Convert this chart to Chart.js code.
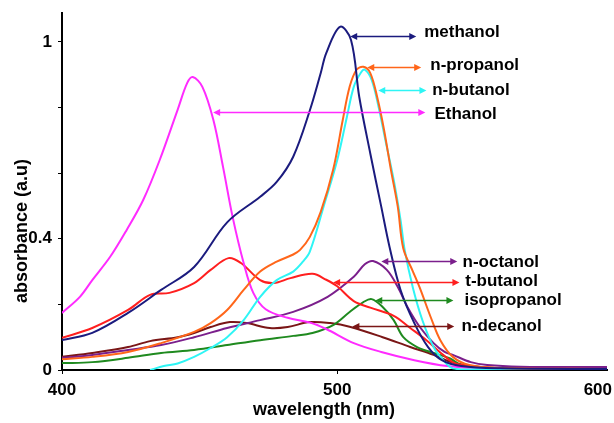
<!DOCTYPE html>
<html>
<head>
<meta charset="utf-8">
<script src="https://cdn.jsdelivr.net/npm/chart.js@4"></script>
<style>
  html, body { margin: 0; padding: 0; background: #ffffff; }
</style>
</head>
<body>
<canvas id="chart" width="614" height="423"></canvas>
<script>
// ---- data (wavelength in nm, absorbance in a.u.) ----
const methanolNm  = [400, 411, 424, 436, 448, 460, 472, 478, 484, 490, 494, 496, 501, 505, 508, 512, 516, 519, 523, 528, 533, 538, 545, 559, 598];
const methanolAbs = [0.091, 0.113, 0.174, 0.244, 0.314, 0.45, 0.528, 0.573, 0.65, 0.79, 0.905, 0.966, 1.046, 1.006, 0.832, 0.66, 0.497, 0.375, 0.244, 0.143, 0.07, 0.03, 0.012, 0.005, 0.003];

const ethanolNm  = [400, 406.5, 411, 417.5, 423.5, 429.5, 435.5, 442, 445.5, 447.5, 451, 455, 458.5, 462, 466, 469.5, 474, 482, 490, 496, 506, 516, 528, 540, 552, 598];
const ethanolAbs = [0.174, 0.223, 0.274, 0.345, 0.427, 0.518, 0.64, 0.793, 0.875, 0.893, 0.863, 0.762, 0.619, 0.466, 0.326, 0.235, 0.185, 0.159, 0.145, 0.125, 0.082, 0.055, 0.03, 0.012, 0.005, 0.003];

const propanolNm  = [400, 411, 424, 436, 448, 454, 460, 466, 472, 478, 484, 486.5, 490, 494, 498.5, 502, 504.5, 507, 509.5, 512, 514.5, 517, 519.5, 522, 524, 527.5, 530, 534, 537.5, 542, 548, 559, 598];
const propanolAbs = [0.033, 0.04, 0.055, 0.082, 0.116, 0.143, 0.183, 0.244, 0.3, 0.33, 0.352, 0.366, 0.405, 0.482, 0.61, 0.762, 0.863, 0.915, 0.924, 0.905, 0.832, 0.732, 0.61, 0.497, 0.37, 0.3, 0.25, 0.16, 0.09, 0.04, 0.015, 0.006, 0.003];

const butanolNm  = [432, 437, 442, 448, 454, 460, 466, 472, 478, 484, 487.5, 490, 495, 500, 503.5, 506, 508.5, 510, 512.5, 515, 517.5, 520.5, 523, 524.5, 527.5, 531, 535, 538.5, 542, 550, 598];
const butanolAbs = [0.0, 0.012, 0.02, 0.04, 0.067, 0.1, 0.152, 0.223, 0.274, 0.3, 0.33, 0.36, 0.497, 0.64, 0.771, 0.863, 0.905, 0.915, 0.884, 0.802, 0.7, 0.58, 0.457, 0.366, 0.25, 0.15, 0.07, 0.03, 0.005, 0.002, 0.002];

const tButanolNm  = [400, 411, 424, 432, 439, 448, 454, 460.5, 465, 472, 477, 483, 491, 496, 500, 506, 512, 520.5, 526.5, 532.5, 538.5, 543.5, 559, 598];
const tButanolAbs = [0.098, 0.128, 0.183, 0.229, 0.235, 0.265, 0.305, 0.341, 0.326, 0.274, 0.265, 0.28, 0.293, 0.275, 0.255, 0.21, 0.19, 0.165, 0.128, 0.09, 0.046, 0.018, 0.005, 0.003];

const isopropanolNm  = [400, 411, 424, 436, 448, 460, 472, 484, 491, 498.5, 504.5, 509.5, 512.5, 516.5, 520.5, 524, 529, 535, 541, 545, 552, 598];
const isopropanolAbs = [0.021, 0.024, 0.037, 0.052, 0.061, 0.076, 0.091, 0.104, 0.113, 0.137, 0.177, 0.207, 0.216, 0.192, 0.152, 0.1, 0.07, 0.052, 0.035, 0.015, 0.006, 0.003];

const octanolNm  = [400, 411, 424, 436, 448, 460, 472, 484, 496.5, 506, 510, 513, 518, 522, 525.5, 530, 535, 539, 542, 548.5, 554.5, 566.5, 598];
const octanolAbs = [0.037, 0.046, 0.061, 0.076, 0.1, 0.128, 0.152, 0.177, 0.223, 0.284, 0.322, 0.332, 0.305, 0.253, 0.192, 0.131, 0.082, 0.055, 0.046, 0.024, 0.015, 0.01, 0.009];

const decanolNm  = [400, 411, 424, 432, 442, 448, 454, 461, 467, 475.5, 482, 490, 497.5, 504.5, 516.5, 526.5, 535, 541, 548.5, 559, 598];
const decanolAbs = [0.04, 0.052, 0.07, 0.088, 0.1, 0.113, 0.131, 0.146, 0.143, 0.128, 0.131, 0.146, 0.143, 0.132, 0.1, 0.07, 0.046, 0.025, 0.012, 0.005, 0.003];

const xTickValues = [400, 500];
const xTickLabels = ["400", "500", "600"];
const yTickValues = [0, 0.2, 0.4, 0.6, 0.8, 1];
const yTickShown  = [0, 0.4, 1];

// arrow annotations: [label, arrow from nm, arrow to nm, arrow abs, text nm, text baseline abs]
const notes = [
    ["methanol",    504.7, 528.7, 1.017, 531.6, 1.015],
    ["n-propanol",  510.9, 530.5, 0.924, 533.8, 0.915],
    ["n-butanol",   514.9, 532.4, 0.854, 534.5, 0.838],
    ["Ethanol",     454.9, 532.0, 0.787, 535.3, 0.765],
    ["n-octanol",   516.0, 543.6, 0.332, 545.5, 0.315],
    ["t-butanol",   498.5, 544.4, 0.269, 546.5, 0.257],
    ["isopropanol", 513.8, 542.2, 0.213, 546.2, 0.198],
    ["n-decanol",   505.5, 542.5, 0.134, 545.1, 0.120],
];

const COLORS = {
    "methanol":    "#1b1b7e",
    "Ethanol":     "#ff2bff",
    "n-propanol":  "#ff661a",
    "n-butanol":   "#2ef5f5",
    "t-butanol":   "#ff1f1f",
    "isopropanol": "#1f8a1f",
    "n-octanol":   "#7b1f8c",
    "n-decanol":   "#7a1616",
};

const FONT = "'Liberation Sans', Arial, sans-serif";

function series(label, nm, abs) {
    return {
        label: label,
        data: nm.map((x, i) => ({ x: x, y: abs[i] })),
        borderColor: COLORS[label],
        backgroundColor: COLORS[label],
        borderWidth: 2,
        pointRadius: 0,
        fill: false,
        tension: 0.35,
    };
}

// draws axis titles, x tick labels and the double arrows
const extras = {
    id: "extras",
    afterDraw(chart) {
        const ctx = chart.ctx;
        const xs = chart.scales.x;
        const ys = chart.scales.y;
        const area = chart.chartArea;
        ctx.save();

        // x tick labels
        ctx.fillStyle = "#000";
        ctx.font = "bold 17px " + FONT;
        ctx.textAlign = "center";
        ctx.textBaseline = "alphabetic";
        [400, 500, 600].forEach((v, i) => {
            const w = ctx.measureText(xTickLabels[i]).width;
            let px = xs.getPixelForValue(v);
            px = Math.min(px, chart.width - 2 - w / 2);
            ctx.fillText(xTickLabels[i], px, area.bottom + 25);
        });

        // axis titles
        ctx.font = "bold 18px " + FONT;
        ctx.fillText("wavelength (nm)", 324, 415);
        ctx.translate(22, 231);
        ctx.rotate(-Math.PI / 2);
        ctx.textBaseline = "middle";
        ctx.fillText("absorbance (a.u)", 0, 0);
        ctx.setTransform(1, 0, 0, 1, 0, 0);

        // arrows + labels
        notes.forEach(([name, x0, x1, yv, tx, ty]) => {
            const c = COLORS[name];
            const p0 = xs.getPixelForValue(x0);
            const p1 = xs.getPixelForValue(x1);
            const py = Math.round(ys.getPixelForValue(yv)) + 0.5;
            ctx.strokeStyle = c;
            ctx.fillStyle = c;
            ctx.lineWidth = 1.5;
            ctx.beginPath();
            ctx.moveTo(p0 + 4, py);
            ctx.lineTo(p1 - 4, py);
            ctx.stroke();
            [[p0, 1], [p1, -1]].forEach(([p, d]) => {
                ctx.beginPath();
                ctx.moveTo(p, py);
                ctx.lineTo(p + d * 7, py - 3.5);
                ctx.lineTo(p + d * 7, py + 3.5);
                ctx.closePath();
                ctx.fill();
            });
            ctx.fillStyle = "#000";
            ctx.font = "bold 17px " + FONT;
            ctx.textAlign = "left";
            ctx.textBaseline = "alphabetic";
            ctx.fillText(name, xs.getPixelForValue(tx), ys.getPixelForValue(ty));
        });
        ctx.restore();
    },
};

new Chart(document.getElementById("chart"), {
    type: "line",
    data: {
        datasets: [
            series("methanol", methanolNm, methanolAbs),
            series("n-propanol", propanolNm, propanolAbs),
            series("n-butanol", butanolNm, butanolAbs),
            series("Ethanol", ethanolNm, ethanolAbs),
            series("t-butanol", tButanolNm, tButanolAbs),
            series("n-octanol", octanolNm, octanolAbs),
            series("isopropanol", isopropanolNm, isopropanolAbs),
            series("n-decanol", decanolNm, decanolAbs),
        ],
    },
    options: {
        responsive: false,
        animation: false,
        layout: { padding: { top: 13, right: 7, left: 0, bottom: 0 } },
        plugins: {
            legend: { display: false },
            tooltip: { enabled: false },
        },
        scales: {
            x: {
                type: "linear",
                min: 400,
                max: 598,
                afterBuildTicks: (s) => { s.ticks = xTickValues.map(v => ({ value: v })); },
                afterFit: (s) => { s.height = 53; s.paddingLeft = 0; s.paddingRight = 0; },
                ticks: { display: false },
                grid: { drawOnChartArea: false, drawTicks: true, tickLength: 4, color: "#000", lineWidth: 1 },
                border: { display: true, color: "#000", width: 2 },
            },
            y: {
                min: 0,
                max: 1.088,
                afterBuildTicks: (s) => { s.ticks = yTickValues.map(v => ({ value: v })); },
                afterFit: (s) => { s.width = 62; s.paddingTop = 0; s.paddingBottom = 0; },
                ticks: {
                    padding: 6,
                    color: "#000",
                    font: { family: FONT, size: 17, weight: "bold" },
                    callback: (v) => yTickShown.includes(Math.round(v * 10) / 10) ? String(Math.round(v * 10) / 10) : "",
                },
                grid: { drawOnChartArea: false, drawTicks: true, tickLength: 4, color: "#000", lineWidth: 1 },
                border: { display: true, color: "#000", width: 2 },
            },
        },
    },
    plugins: [extras],
});
</script>
</body>
</html>
